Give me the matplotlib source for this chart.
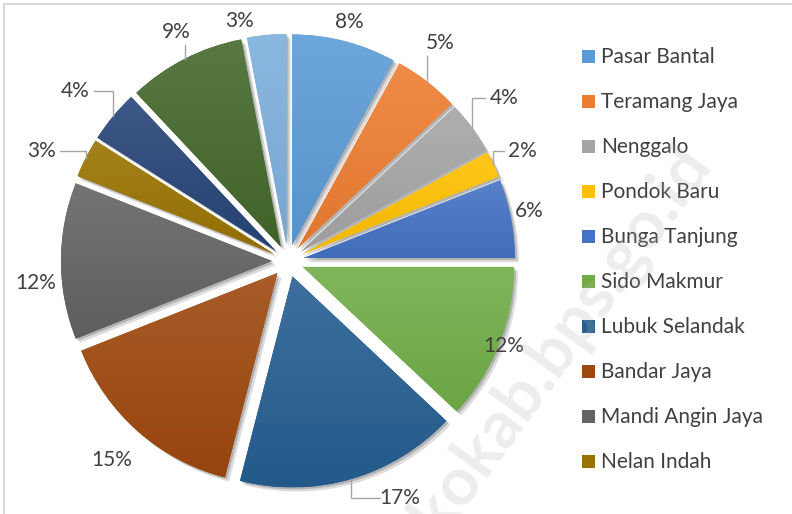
import numpy as np
import matplotlib
matplotlib.use("Agg")
import matplotlib.pyplot as plt
import matplotlib.patheffects as pe
from matplotlib.colors import to_rgb
from matplotlib.patches import Rectangle
from matplotlib.lines import Line2D

# data (share of each village, %)
villages = ["Pasar Bantal", "Teramang Jaya", "Nenggalo", "Pondok Baru",
            "Bunga Tanjung", "Sido Makmur", "Lubuk Selandak", "Bandar Jaya",
            "Mandi Angin Jaya", "Nelan Indah", "", "", ""]
shares = [8, 5, 4, 2, 6, 12, 17, 15, 12, 3, 4, 9, 3]
legend_count = 10  # the legend in the source only shows the first ten

# Office theme palette (base, darker, lighter cycles)
colors = ["#5B9BD5", "#ED7D31", "#A5A5A5", "#FFC000", "#4472C4", "#70AD47",
          "#255E91", "#9E480E", "#636363", "#997300", "#264478", "#43682B",
          "#7CAFDD"]

# label placement (radius factor, angle shift in deg, leader line)
lab_r = [1.17, 1.26, 1.28, 1.23, 1.17, 1.10, 1.24, 1.26, 1.20, 1.28, 1.29, 1.21, 1.16]
lab_shift = [0, 3, 1, 0, 1, 0, 9, 0, 5, 3, 1, -1, 6]
leader = [False, True, True, True, False, False, True, False, False, True, True, True, False]

explode_amt = 0.076
text_col = "#404040"

plt.rcParams['font.family'] = ['Lato', 'DejaVu Sans']

fig = plt.figure(figsize=(7.92, 5.14), dpi=100)
ax = fig.add_axes([0, 0, 580 / 792, 1])

wedges, _ = ax.pie(shares, colors=colors, startangle=90, counterclock=False,
                   explode=[explode_amt] * len(shares), radius=1.0,
                   wedgeprops=dict(linewidth=0))
ax.set_xlim(-1.365, 1.384)
ax.set_ylim(-1.199, 1.237)
ax.set_aspect('auto')
ax.axis('off')


def shade(c, f):
    r = np.array(to_rgb(c))
    return np.clip(r * f, 0, 1)


def tint(c, f):
    r = np.array(to_rgb(c))
    return r + (1 - r) * f


# gradient fill + soft shadow on each slice
for w, c in zip(wedges, colors):
    w.set_path_effects([pe.SimplePatchShadow(offset=(3, -3), shadow_rgbFace='#777777', alpha=0.25),
                        pe.SimplePatchShadow(offset=(1.5, -1.5), shadow_rgbFace='#555555', alpha=0.3),
                        pe.Normal()])
    bb = w.get_path().get_extents()
    top = tint(c, 0.11)
    bot = shade(c, 0.95)
    grad = np.linspace(0, 1, 64)[:, None, None]
    img = top[None, None, :] * (1 - grad) + bot[None, None, :] * grad
    im = ax.imshow(img, extent=[bb.x0, bb.x1, bb.y0, bb.y1], origin='upper',
                   aspect='auto', zorder=2, interpolation='bilinear')
    im.set_clip_path(w)

# percentage labels
cum = np.cumsum([0] + shares[:-1])
total = sum(shares)
for i, v in enumerate(shares):
    mid = 90 - 360 * (cum[i] + v / 2) / total
    a = np.deg2rad(mid + lab_shift[i])
    lx, ly = lab_r[i] * np.cos(a), lab_r[i] * np.sin(a)
    ax.text(lx, ly, f"{v}%", ha='center', va='center', fontsize=15,
            color=text_col, zorder=5)
    if leader[i]:
        m = np.deg2rad(mid)
        ex = (1 + explode_amt) * np.cos(m)
        ey = (1 + explode_amt) * np.sin(m)
        hw, hh = 0.09, 0.065
        if abs(ex - lx) < hw:
            yend = ly - hh if ey < ly else ly + hh
            xs, ys = [ex, ex], [ey, yend]
        else:
            xend = lx - hw if ex < lx else lx + hw
            xs, ys = [ex, ex, xend], [ey, ly, ly]
        ax.plot(xs, ys, color='#a6a6a6', lw=1.0, zorder=4, solid_joinstyle='miter')

# legend (only first ten entries as in the source)
W, H = 792, 514
for i in range(legend_count):
    yc = 57 + 45 * i
    fig.add_artist(Rectangle((582 / W, 1 - (yc + 6) / H), 13 / W, 13 / H,
                             transform=fig.transFigure, facecolor=colors[i],
                             edgecolor='none'))
    fig.text(601 / W, 1 - yc / H, villages[i], ha='left', va='center',
             fontsize=15, color=text_col)

# chart area border (top and left visible)
fig.add_artist(Line2D([4 / W, 4 / W], [0, 1 - 4 / H], transform=fig.transFigure,
                      color='#d9d9d9', lw=1.5))
fig.add_artist(Line2D([4 / W, 1], [1 - 4 / H, 1 - 4 / H], transform=fig.transFigure,
                      color='#d9d9d9', lw=1.5))

# faint watermark running off the bottom edge
fig.text(485 / W, 1 - 445 / H, "mukomukokab.bps.go.id", rotation=54,
         ha='center', va='center', fontsize=48, fontweight='bold',
         color='#b0b0b0', alpha=0.22, zorder=10)

fig.savefig("out.png", dpi=100, facecolor='white')
